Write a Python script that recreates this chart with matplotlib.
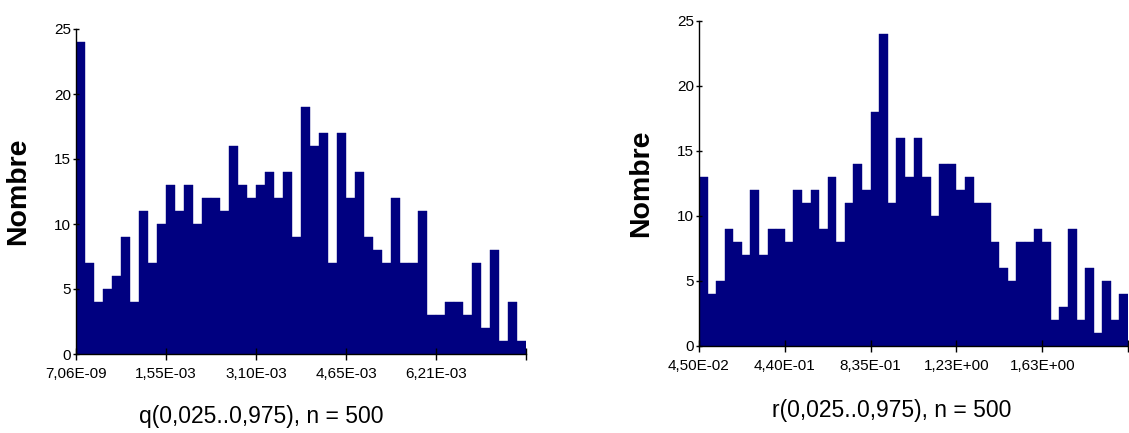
import numpy as np
import matplotlib
matplotlib.use("Agg")
import matplotlib.pyplot as plt

plt.rcParams['font.family'] = ['Liberation Sans', 'DejaVu Sans']

# Histogram counts (50 equal-width bins each)
q_counts = [24, 7, 4, 5, 6, 9, 4, 11, 7, 10,
            13, 11, 13, 10, 12, 12, 11, 16, 13, 12,
            13, 14, 12, 14, 9, 19, 16, 17, 7, 17,
            12, 14, 9, 8, 7, 12, 7, 7, 11, 3,
            3, 4, 4, 3, 7, 2, 8, 1, 4, 1]
r_counts = [13, 4, 5, 9, 8, 7, 12, 7, 9, 9,
            8, 12, 11, 12, 9, 13, 8, 11, 14, 12,
            18, 24, 11, 16, 13, 16, 13, 10, 14, 14,
            12, 13, 11, 11, 8, 6, 5, 8, 8, 9,
            8, 2, 3, 9, 2, 6, 1, 5, 2, 4]

# Value ranges covered by the bins
q_range = (7.06e-09, 7.7625e-03)
r_range = (4.50e-02, 2.02625)

q_ticklabels = ["7,06E-09", "1,55E-03", "3,10E-03", "4,65E-03", "6,21E-03", ""]
r_ticklabels = ["4,50E-02", "4,40E-01", "8,35E-01", "1,23E+00", "1,63E+00", ""]

q_title = "q(0,025..0,975), n = 500"
r_title = "r(0,025..0,975), n = 500"

yticks = [0, 5, 10, 15, 20, 25]

W, H = 1129, 433
fig = plt.figure(figsize=(W / 100, H / 100), dpi=100)
bar_color = "#000080"


def panel(rect, counts, rng, ticklabels, xlabel, xlabel_pos, ylabel_x):
    ax = fig.add_axes(rect)
    edges = np.linspace(rng[0], rng[1], len(counts) + 1)
    ax.bar(edges[:-1], counts, width=np.diff(edges), align="edge",
           color=bar_color, edgecolor=bar_color, linewidth=0.3)
    ax.set_xlim(edges[0], edges[-1])
    ax.set_ylim(0, 25)
    ax.set_xticks(edges[::10])
    ax.set_xticklabels(ticklabels)
    ax.set_yticks(yticks)
    for s in ("top", "right"):
        ax.spines[s].set_visible(False)
    for s in ("left", "bottom"):
        ax.spines[s].set_linewidth(1.0)
        ax.spines[s].set_color("black")
    ax.tick_params(axis="x", direction="inout", length=8.5, width=1.0,
                   labelsize=11, pad=5, colors="black")
    ax.tick_params(axis="y", direction="inout", length=5, width=1.0,
                   labelsize=11, pad=1, colors="black")
    ax.set_ylabel("Nombre", fontsize=20.5, fontweight="bold")
    ax.yaxis.set_label_coords(ylabel_x, 0.5)
    fig.text(xlabel_pos[0] / W, 1 - xlabel_pos[1] / H, xlabel,
             fontsize=16.5, ha="center", va="center")
    return ax


panel([76 / W, (H - 354) / H, 450 / W, 325 / H], q_counts, q_range,
      q_ticklabels, q_title, (261, 416), -0.10)
panel([699 / W, (H - 345.7) / H, 429 / W, 325 / H], r_counts, r_range,
      r_ticklabels, r_title, (892, 410), -0.105)

fig.savefig("out.png", dpi=100)
